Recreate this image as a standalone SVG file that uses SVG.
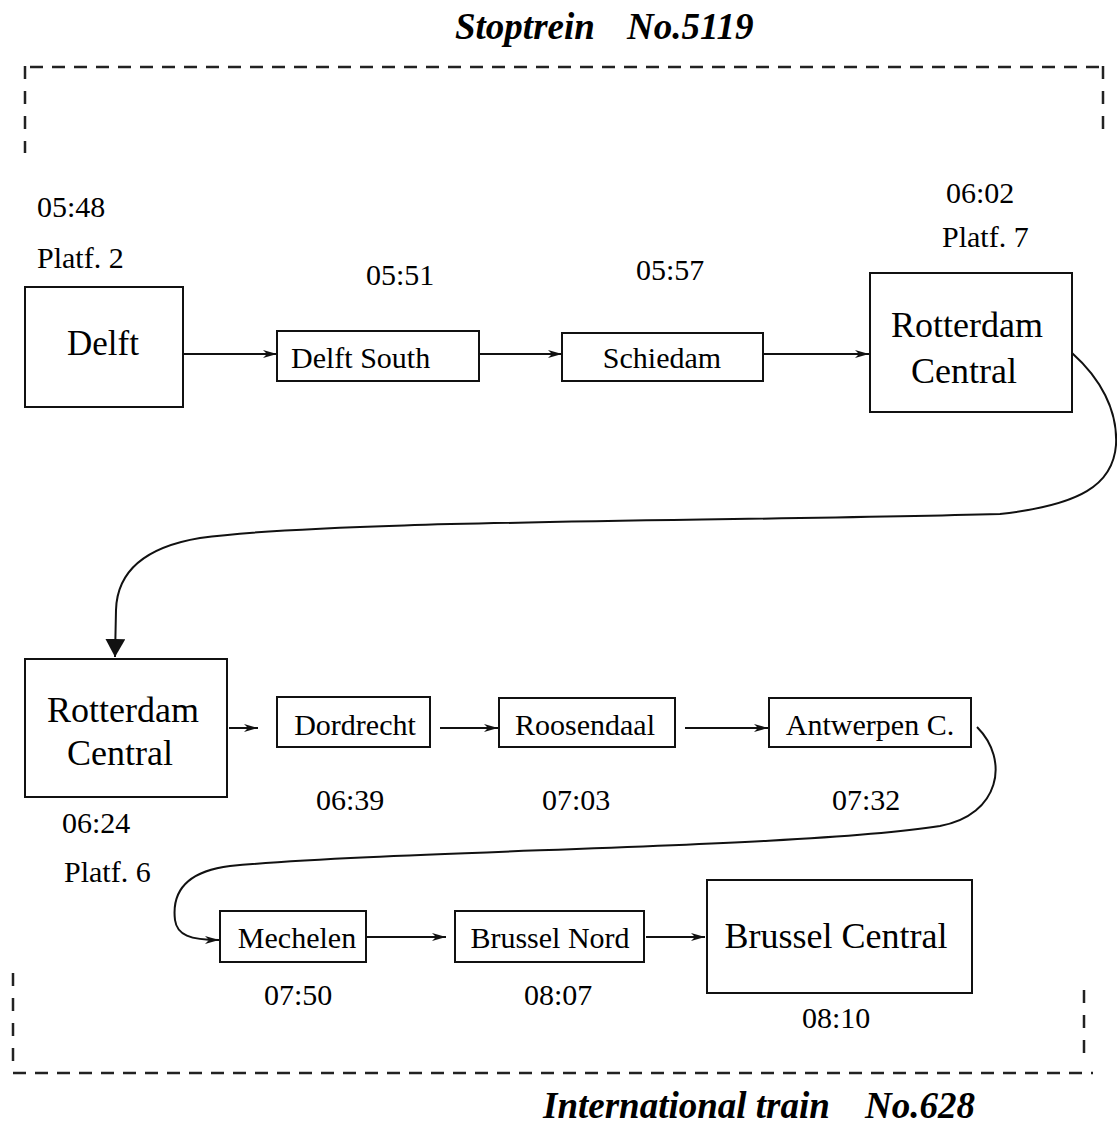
<svg xmlns="http://www.w3.org/2000/svg" width="1117" height="1126" viewBox="0 0 1117 1126">
  <style>
    .box { fill: #fff; stroke: #111; stroke-width: 2; }
    .conn { fill: none; stroke: #111; stroke-width: 2; }
    .frame { fill: none; stroke: #222; stroke-width: 2.5; }
    .fh { stroke-dasharray: 13 9; }
    .fv { stroke-dasharray: 13 12; }
    text { font-family: "Liberation Serif", "Times New Roman", serif; fill: #000; }
    .lbl { font-size: 30px; }
    .mid { text-anchor: middle; }
    .big { font-size: 36px; text-anchor: middle; }
    .title { font-size: 37px; font-weight: bold; font-style: italic; }
  </style>
  <defs>
    <marker id="arr" markerUnits="userSpaceOnUse" viewBox="0 0 14 8" refX="14" refY="4" markerWidth="14" markerHeight="8" orient="auto">
      <path d="M0,0 L14,4 L0,8 L4,4 z" fill="#111"/>
    </marker>
    <marker id="arrBig" markerUnits="userSpaceOnUse" viewBox="0 0 18 20" refX="18" refY="10" markerWidth="18" markerHeight="20" orient="auto">
      <path d="M0,0 L18,10 L0,20 z" fill="#111"/>
    </marker>
  </defs>

  <!-- train frames and titles -->
  <g id="stoptrein">
    <text class="title" y="39"><tspan x="455">Stoptrein</tspan><tspan x="627">No.5119</tspan></text>
    <path class="frame fh" d="M30,67 H1101"/>
    <path class="frame fv" d="M25,66 V153"/>
    <path class="frame fv" d="M1103,66 V137"/>
  </g>
  <g id="international">
    <text class="title" y="1118"><tspan x="543">International train</tspan><tspan x="865">No.628</tspan></text>
    <path class="frame fh" d="M13,1073 H1093"/>
    <path class="frame fv" d="M13,973 V1063"/>
    <path class="frame fv" d="M1084,990 V1063"/>
  </g>

  <!-- connectors -->
  <g id="connectors">
    <path class="conn" d="M183,354 H277" marker-end="url(#arr)"/>
    <path class="conn" d="M479,354 H562" marker-end="url(#arr)"/>
    <path class="conn" d="M763,354 H869" marker-end="url(#arr)"/>
    <path class="conn" d="M1072,353 C1100,378 1118,410 1116,445 C1113,485 1080,505 1000,514 C700,522 330,520 200,538 C140,548 117,575 116,610 L115,657" marker-end="url(#arrBig)"/>
    <path class="conn" d="M229,728 H258" marker-end="url(#arr)"/>
    <path class="conn" d="M440,728 H498" marker-end="url(#arr)"/>
    <path class="conn" d="M685,728 H768" marker-end="url(#arr)"/>
    <path class="conn" d="M977,727 C1010,760 1000,815 940,826 C800,848 400,850 230,866 C182,872 172,895 175,920 C177,935 190,940 219,940" marker-end="url(#arr)"/>
    <path class="conn" d="M366,937 H446" marker-end="url(#arr)"/>
    <path class="conn" d="M646,937 H705" marker-end="url(#arr)"/>
  </g>

  <!-- Stoptrein stations -->
  <g id="delft">
    <rect class="box" x="25" y="287" width="158" height="120"/>
    <text class="big" x="103" y="355" style="font-size:35px">Delft</text>
    <text class="lbl" x="37" y="217">05:48</text>
    <text class="lbl" x="37" y="268">Platf. 2</text>
  </g>
  <g id="delft-south">
    <rect class="box" x="277" y="331" width="202" height="50"/>
    <text class="lbl" x="291" y="368">Delft South</text>
    <text class="lbl" x="366" y="285">05:51</text>
  </g>
  <g id="schiedam">
    <rect class="box" x="562" y="333" width="201" height="48"/>
    <text class="lbl mid" x="662" y="368">Schiedam</text>
    <text class="lbl" x="636" y="280">05:57</text>
  </g>
  <g id="rotterdam-1">
    <rect class="box" x="870" y="273" width="202" height="139"/>
    <text class="big" x="967" y="337">Rotterdam</text>
    <text class="big" x="964" y="383">Central</text>
    <text class="lbl" x="946" y="203">06:02</text>
    <text class="lbl" x="942" y="247">Platf. 7</text>
  </g>

  <!-- International train stations -->
  <g id="rotterdam-2">
    <rect class="box" x="25" y="659" width="202" height="138"/>
    <text class="big" x="123" y="722">Rotterdam</text>
    <text class="big" x="120" y="765">Central</text>
    <text class="lbl" x="62" y="833">06:24</text>
    <text class="lbl" x="64" y="882">Platf. 6</text>
  </g>
  <g id="dordrecht">
    <rect class="box" x="277" y="697" width="153" height="50"/>
    <text class="lbl mid" x="355" y="735">Dordrecht</text>
    <text class="lbl" x="316" y="810">06:39</text>
  </g>
  <g id="roosendaal">
    <rect class="box" x="499" y="698" width="176" height="49"/>
    <text class="lbl mid" x="585" y="735">Roosendaal</text>
    <text class="lbl" x="542" y="810">07:03</text>
  </g>
  <g id="antwerpen">
    <rect class="box" x="769" y="698" width="202" height="49"/>
    <text class="lbl mid" x="870" y="735">Antwerpen C.</text>
    <text class="lbl" x="832" y="810">07:32</text>
  </g>
  <g id="mechelen">
    <rect class="box" x="220" y="911" width="146" height="51"/>
    <text class="lbl mid" x="297" y="948">Mechelen</text>
    <text class="lbl" x="264" y="1005">07:50</text>
  </g>
  <g id="brussel-nord">
    <rect class="box" x="455" y="911" width="189" height="51"/>
    <text class="lbl mid" x="550" y="948">Brussel Nord</text>
    <text class="lbl" x="524" y="1005">08:07</text>
  </g>
  <g id="brussel-central">
    <rect class="box" x="707" y="880" width="265" height="113"/>
    <text class="big" x="836" y="948">Brussel Central</text>
    <text class="lbl" x="802" y="1028">08:10</text>
  </g>
</svg>
